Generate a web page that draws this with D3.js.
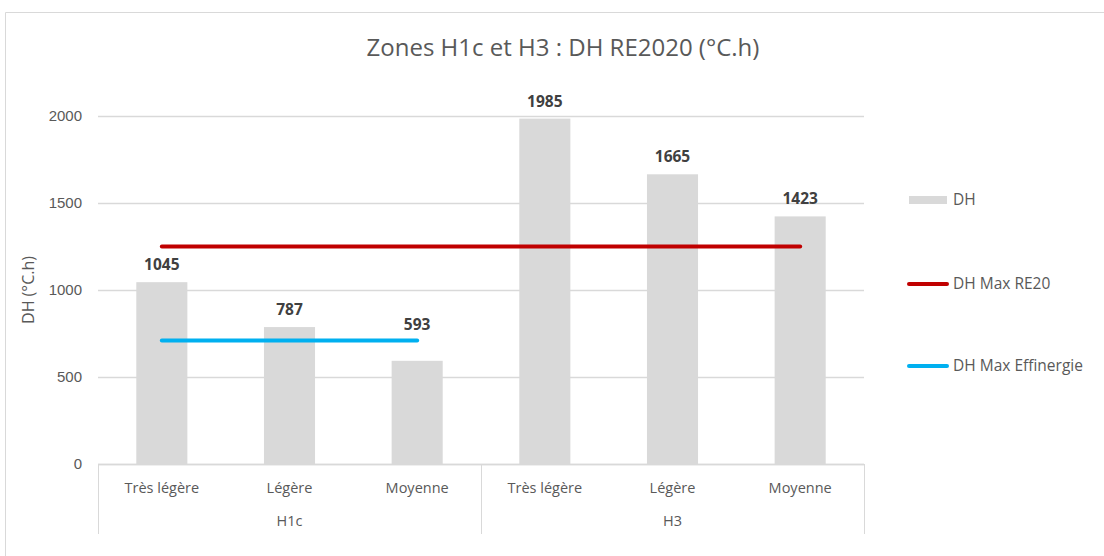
<!DOCTYPE html>
<html>
<head>
<meta charset="utf-8">
<script src="https://cdn.jsdelivr.net/npm/d3@7"></script>
<style>
  body { margin: 0; background: #fff; }
  svg { font-family: "Open Sans", "Noto Sans", sans-serif; }
</style>
</head>
<body>
<svg width="1104" height="556"></svg>
<script>
// data
const zones = ['H1c', 'H1c', 'H1c', 'H3', 'H3', 'H3'];
const inertia = ['Très légère', 'Légère', 'Moyenne', 'Très légère', 'Légère', 'Moyenne'];
const dhValues = [1045, 787, 593, 1985, 1665, 1423];
const maxRE20 = [1250, 1250, 1250, 1250, 1250, 1250];
const maxEffinergie = [710, 710, 710, null, null, null];
const yTicks = [0, 500, 1000, 1500, 2000];

const svg = d3.select('svg');
const textColor = '#595959';
const gridColor = '#d9d9d9';

// chart border (runs off the right and bottom edges like the reference crop)
svg.append('path')
   .attr('d', 'M5.5,556 V12.5 H1104')
   .attr('fill', 'none')
   .attr('stroke', '#d9d9d9');

const margin = {top: 116, left: 98, right: 240, bottom: 92};
const innerWidth = 1104 - margin.left - margin.right;
const innerHeight = 556 - margin.top - margin.bottom;

const keys = inertia.map((d, i) => i);

// scales in page coordinates
const xScale = d3.scaleBand()
    .domain(keys)
    .range([margin.left, margin.left + innerWidth])
    .paddingInner(0.6)
    .paddingOuter(0.3);

const yScale = d3.scaleLinear()
    .domain([0, 2000])
    .range([margin.top + innerHeight, margin.top]);

const baseY = yScale(0);
const xMid = i => xScale(i) + xScale.bandwidth() / 2;

// grid + y axis
const yAxis = d3.axisLeft(yScale)
    .tickValues(yTicks)
    .tickFormat(d3.format('d'))
    .tickSize(-innerWidth)
    .tickPadding(16);

svg.append('g')
  .attr('transform', `translate(${margin.left},0)`)
  .call(yAxis)
  .call(a => a.select('.domain').remove())
  .call(a => a.selectAll('.tick line').attr('stroke', gridColor).attr('stroke-width', 1.5))
  .call(a => a.selectAll('.tick text')
      .attr('fill', textColor)
      .attr('font-size', 15));

// bars
svg.selectAll('rect.bar')
  .data(dhValues)
  .enter()
  .append('rect')
  .attr('class', 'bar')
  .attr('x', (d, i) => xScale(i))
  .attr('y', d => yScale(d))
  .attr('width', xScale.bandwidth())
  .attr('height', d => baseY - yScale(d))
  .attr('fill', '#d9d9d9');

// lines
const lineGen = d3.line()
    .defined(d => d.v != null)
    .x(d => xMid(d.i))
    .y(d => yScale(d.v));

const lineSeries = [
  {name: 'DH Max RE20', values: maxRE20, color: '#c00000'},
  {name: 'DH Max Effinergie', values: maxEffinergie, color: '#00b0f0'}
];

lineSeries.forEach(s => {
  svg.append('path')
    .datum(s.values.map((v, i) => ({i, v})))
    .attr('d', lineGen)
    .attr('fill', 'none')
    .attr('stroke', s.color)
    .attr('stroke-width', 4)
    .attr('stroke-linecap', 'round');
});

// value labels, pushed above a line when they would sit on it
const labelY = (d, i) => {
  let y = yScale(d) - 12;
  lineSeries.forEach(s => {
    const v = s.values[i];
    if (v == null) return;
    const ly = yScale(v);
    if (ly > y - 16 && ly < y + 4) y = ly - 10;
  });
  return y;
};

svg.selectAll('text.val')
  .data(dhValues)
  .enter()
  .append('text')
  .attr('class', 'val')
  .attr('x', (d, i) => xMid(i))
  .attr('y', labelY)
  .attr('text-anchor', 'middle')
  .attr('fill', '#404040')
  .attr('font-size', 15.5)
  .attr('font-weight', 700)
  .text(d => d);

// x axis: baseline, separators, labels
const groupEdges = [margin.left, margin.left + innerWidth / 2, margin.left + innerWidth];

svg.append('line')
  .attr('x1', margin.left).attr('x2', margin.left + innerWidth)
  .attr('y1', baseY + 0.5).attr('y2', baseY + 0.5)
  .attr('stroke', gridColor)
  .attr('stroke-width', 1.5);

svg.selectAll('line.sep')
  .data(groupEdges)
  .enter()
  .append('line')
  .attr('class', 'sep')
  .attr('x1', d => Math.round(d) + 0.5).attr('x2', d => Math.round(d) + 0.5)
  .attr('y1', baseY).attr('y2', baseY + 70)
  .attr('stroke', gridColor);

svg.selectAll('text.cat')
  .data(inertia)
  .enter()
  .append('text')
  .attr('class', 'cat')
  .attr('x', (d, i) => xMid(i))
  .attr('y', baseY + 29)
  .attr('text-anchor', 'middle')
  .attr('fill', textColor)
  .attr('font-size', 14.5)
  .text(d => d);

const groups = Array.from(new Set(zones));
svg.selectAll('text.grp')
  .data(groups)
  .enter()
  .append('text')
  .attr('class', 'grp')
  .attr('x', (d, i) => (groupEdges[i] + groupEdges[i + 1]) / 2)
  .attr('y', baseY + 62)
  .attr('text-anchor', 'middle')
  .attr('fill', textColor)
  .attr('font-size', 14.5)
  .text(d => d);

// y axis title
svg.append('text')
  .attr('transform', `translate(34,${margin.top + innerHeight / 2}) rotate(-90)`)
  .attr('text-anchor', 'middle')
  .attr('fill', textColor)
  .attr('font-size', 16)
  .text('DH (°C.h)');

// title
svg.append('text')
  .attr('x', 563)
  .attr('y', 56)
  .attr('text-anchor', 'middle')
  .attr('fill', textColor)
  .attr('font-size', 24)
  .text('Zones H1c et H3 : DH RE2020 (°C.h)');

// legend
const legend = svg.append('g').attr('transform', 'translate(908,0)');
legend.append('rect')
  .attr('x', 1).attr('y', 196).attr('width', 38).attr('height', 8)
  .attr('fill', '#d9d9d9');
legend.append('text')
  .attr('x', 45).attr('y', 205)
  .attr('fill', textColor).attr('font-size', 15.5)
  .text('DH');

lineSeries.forEach((s, i) => {
  const y = 284 + i * 82;
  legend.append('line')
    .attr('x1', 1).attr('x2', 39)
    .attr('y1', y).attr('y2', y)
    .attr('stroke', s.color)
    .attr('stroke-width', 4)
    .attr('stroke-linecap', 'round');
  legend.append('text')
    .attr('x', 45).attr('y', y + 5)
    .attr('fill', textColor).attr('font-size', 15.5)
    .text(s.name);
});
</script>
</body>
</html>
